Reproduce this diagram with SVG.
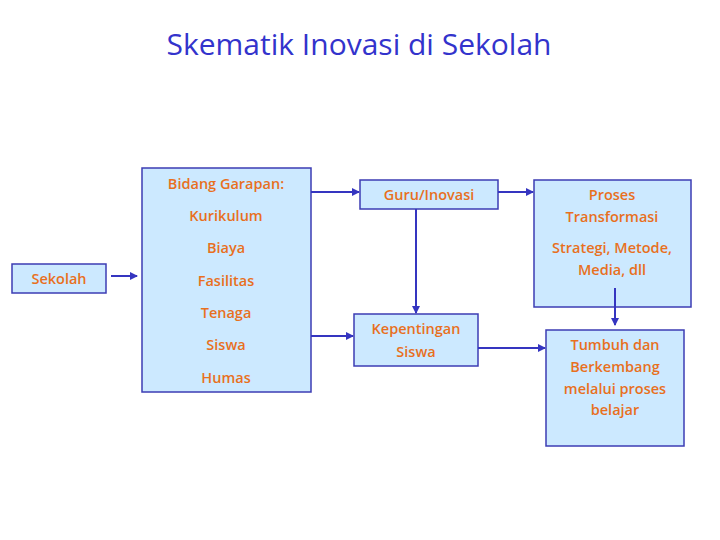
<svg xmlns="http://www.w3.org/2000/svg" width="720" height="540" viewBox="0 0 720 540">
<style>
.b{fill:#cce9ff;stroke:#3c3cb4;stroke-width:1.5}
.t{font-family:"Open Sans",sans-serif;font-size:14.5px;font-weight:600;fill:#e8701e;text-anchor:middle}
.c{stroke:#3535c0;stroke-width:2;fill:none;marker-end:url(#a)}
</style>
<defs><marker id="a" markerWidth="8" markerHeight="8" refX="7" refY="4" orient="auto" markerUnits="userSpaceOnUse"><path d="M0,0L8,4L0,8z" fill="#3535c0"/></marker></defs>
<rect width="720" height="540" fill="#fff"/>
<text x="359" y="55" font-family="Open Sans,sans-serif" font-size="30" fill="#3333cc" text-anchor="middle">Skematik Inovasi di Sekolah</text>
<g id="sekolah"><rect class="b" x="12" y="264" width="94" height="29"/><text class="t" x="59" y="284">Sekolah</text></g>
<g id="bidang"><rect class="b" x="142" y="168" width="169" height="224"/>
<text class="t" x="226" y="189">Bidang Garapan:</text>
<text class="t" x="226" y="221">Kurikulum</text>
<text class="t" x="226" y="253">Biaya</text>
<text class="t" x="226" y="286">Fasilitas</text>
<text class="t" x="226" y="318">Tenaga</text>
<text class="t" x="226" y="350">Siswa</text>
<text class="t" x="226" y="383">Humas</text></g>
<g id="guru"><rect class="b" x="360" y="180" width="138" height="29"/><text class="t" x="429" y="200">Guru/Inovasi</text></g>
<g id="kepentingan"><rect class="b" x="354" y="314" width="124" height="52"/><text class="t" x="416" y="334">Kepentingan</text><text class="t" x="416" y="357">Siswa</text></g>
<g id="proses"><rect class="b" x="534" y="180" width="157" height="127"/>
<text class="t" x="612" y="200">Proses</text><text class="t" x="612" y="222">Transformasi</text>
<text class="t" x="612" y="253">Strategi, Metode,</text><text class="t" x="612" y="275">Media, dll</text></g>
<g id="tumbuh"><rect class="b" x="546" y="330" width="138" height="116"/>
<text class="t" x="615" y="350">Tumbuh dan</text><text class="t" x="615" y="372">Berkembang</text>
<text class="t" x="615" y="394">melalui proses</text><text class="t" x="615" y="415">belajar</text></g>
<g id="connectors">
<path class="c" d="M111,276H137"/>
<path class="c" d="M311,192H359"/>
<path class="c" d="M311,336H353"/>
<path class="c" d="M498,192H533"/>
<path class="c" d="M416,209V313"/>
<path class="c" d="M478,348H545"/>
<path class="c" d="M615,288V325"/>
</g>
</svg>
